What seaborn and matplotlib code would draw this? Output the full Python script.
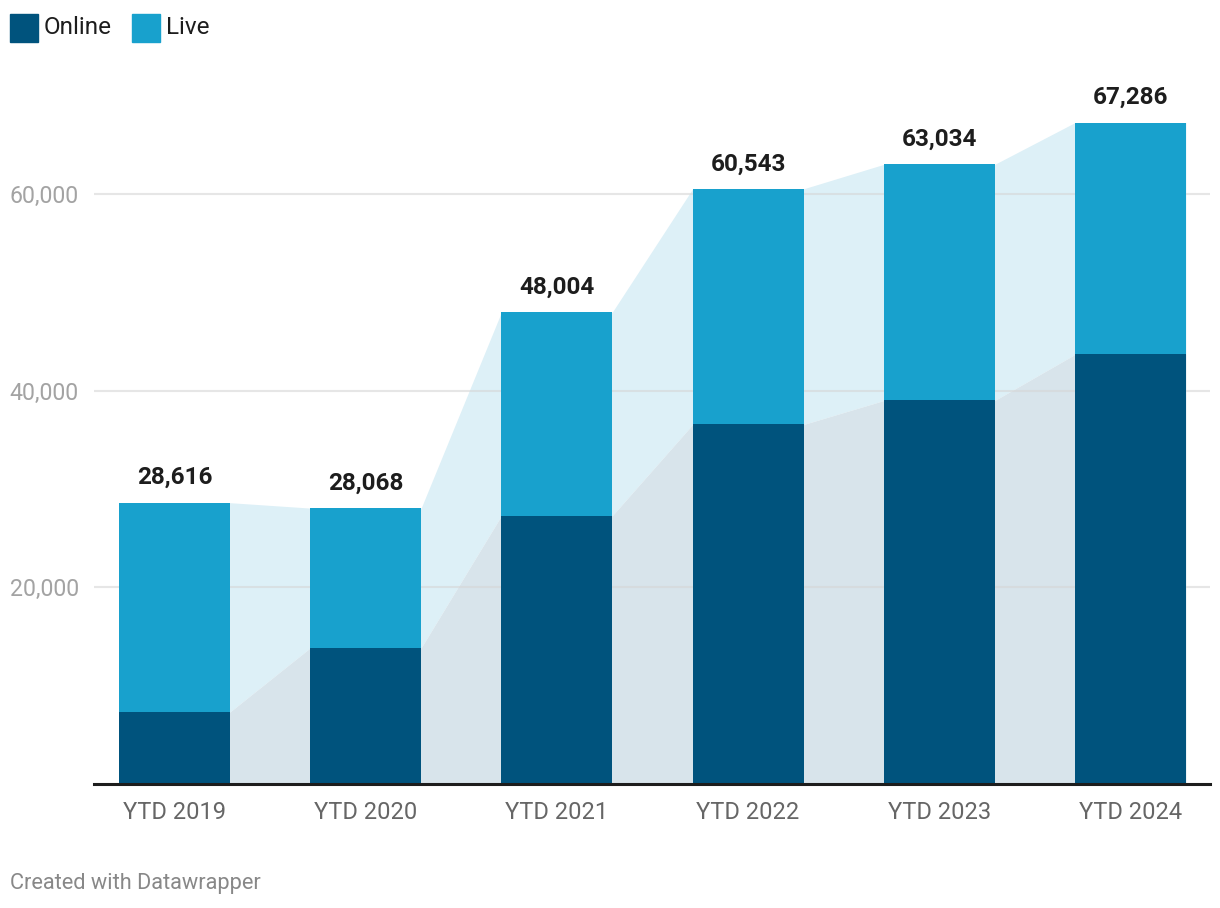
import matplotlib
matplotlib.use("Agg")
import matplotlib.pyplot as plt
import seaborn as sns
import numpy as np
import pandas as pd
from matplotlib.patches import Rectangle

categories = ["YTD 2019", "YTD 2020", "YTD 2021", "YTD 2022", "YTD 2023", "YTD 2024"]
totals = [28616, 28068, 48004, 60543, 63034, 67286]
online = [7330, 13850, 27300, 36570, 39010, 43700]
yticks = [20000, 40000, 60000]

C_ONLINE = "#00537d"
C_LIVE = "#18a1cd"
C_LIVE_AREA = "#ddf0f7"
C_ONLINE_AREA = "#d8e4eb"

sns.set_theme(style="white")
plt.rcParams["font.family"] = ["Roboto", "DejaVu Sans"]

fig = plt.figure(figsize=(12.2, 9.08), dpi=100)
W, H = 1220, 908
ax = fig.add_axes([94 / W, (H - 784) / H, (1210 - 94) / W, (784 - 90) / H])

df = pd.DataFrame({"cat": categories, "total": totals, "online": online})
bw = 0.58

# connecting areas
xs = []
yt = []
yo = []
for i in range(len(categories)):
    xs += [i - bw / 2, i + bw / 2]
    yt += [totals[i], totals[i]]
    yo += [online[i], online[i]]
ax.fill_between(xs, yo, yt, color=C_LIVE_AREA, lw=0, zorder=0)
ax.fill_between(xs, 0, yo, color=C_ONLINE_AREA, lw=0, zorder=0)

# gridlines
for t in yticks:
    ax.axhline(t, color="#d6d6d6", lw=1.5, alpha=0.6, zorder=1)

sns.barplot(data=df, x="cat", y="total", color=C_LIVE, width=bw, saturation=1,
            ax=ax, zorder=2, linewidth=0)
sns.barplot(data=df, x="cat", y="online", color=C_ONLINE, width=bw, saturation=1,
            ax=ax, zorder=3, linewidth=0)

for i, t in enumerate(totals):
    ax.annotate(f"{t:,}", (i, t), xytext=(0, 18), textcoords="offset points",
                ha="center", va="center", fontsize=17.5, fontweight="bold",
                color="#1d1d1d", zorder=5)

ax.set_xlim(-0.421, 5.416)
ax.set_ylim(0, (784 - 91) / 9.8167 * 1000)
ax.set_yticks(yticks)
ax.set_yticklabels([f"{t:,}" for t in yticks], color="#a3a3a3", fontsize=16.7)
ax.tick_params(axis="y", length=0, pad=10.8)
ax.tick_params(axis="x", length=0, pad=12, labelsize=17, labelcolor="#666666")
ax.set_xlabel("")
ax.set_ylabel("")
for s in ["top", "right", "left"]:
    ax.spines[s].set_visible(False)
ax.spines["bottom"].set_color("#1d1d1d")
ax.spines["bottom"].set_linewidth(2.2)
ax.spines["bottom"].set_zorder(6)

# legend
fig.patches.append(Rectangle((10 / W, 1 - 42 / H), 28 / W, 28 / H, transform=fig.transFigure,
                             color=C_ONLINE, figure=fig))
fig.text(44 / W, 1 - 27 / H, "Online", fontsize=17.5, color="#1d1d1d", va="center", ha="left")
fig.patches.append(Rectangle((132 / W, 1 - 42 / H), 28 / W, 28 / H, transform=fig.transFigure,
                             color=C_LIVE, figure=fig))
fig.text(166 / W, 1 - 27 / H, "Live", fontsize=17.5, color="#1d1d1d", va="center", ha="left")

fig.text(10 / W, 1 - 884 / H, "Created with Datawrapper", fontsize=15.7, color="#888888",
         va="center", ha="left")

fig.savefig("out.png", dpi=100, facecolor="white")
